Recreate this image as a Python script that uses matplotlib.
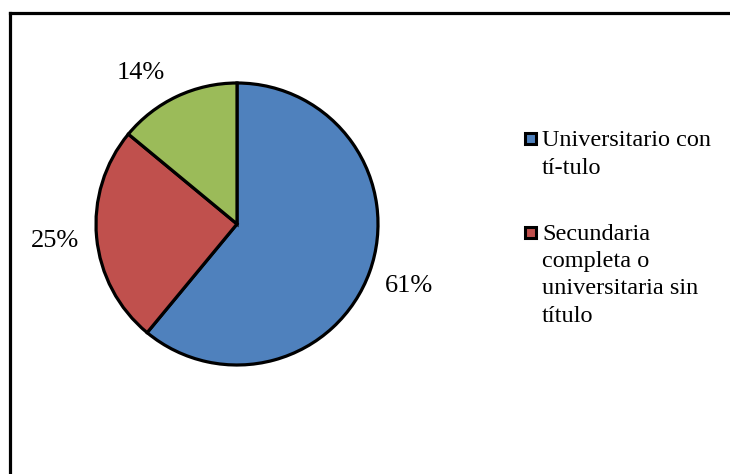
import matplotlib
matplotlib.use('Agg')
import matplotlib.pyplot as plt
from matplotlib.patches import Rectangle


# ----------------------------------------------------------------------------------------------------
# data
# ----------------------------------------------------------------------------------------------------
values = [61, 25, 14]
colors = ['#4F81BD', '#C0504D', '#9BBB59']
legend_labels = ['Universitario con\ntí-tulo',
                 'Secundaria\ncompleta o\nuniversitaria sin\ntítulo']


# ----------------------------------------------------------------------------------------------------
# figure (axes in pixel coords, y up)
# ----------------------------------------------------------------------------------------------------
W, H = 730, 474
plt.rcParams['font.family'] = ['Liberation Serif', 'DejaVu Serif']

fig = plt.figure(figsize=(W / 100, H / 100), dpi=100)
ax = fig.add_axes([0, 0, 1, 1])

wedges, texts, autotexts = ax.pie(values, colors=colors, startangle=90, counterclock=False,
                                  center=(237, H - 224), radius=141,
                                  autopct='%1.0f%%', pctdistance=1.3,
                                  wedgeprops=dict(edgecolor='black', linewidth=2.3),
                                  textprops=dict(fontsize=19, color='black'))

# small slice label sits closer to the pie in the original
autotexts[2].set_position((141, H - 73))

ax.set_xlim(0, W)
ax.set_ylim(0, H)
ax.set_aspect('auto')
ax.set_axis_off()

# chart area border (top and left only visible)
ax.plot([10, W], [H - 13, H - 13], color='black', linewidth=2.3, solid_capstyle='projecting', clip_on=False)
ax.plot([10, 10], [H - 13, 0], color='black', linewidth=2.3, solid_capstyle='projecting', clip_on=False)

# legend drawn by hand so the marker sits on the first line
line_h = 27.5
y_base = H - 146
for (idx, label) in enumerate(legend_labels):
    ax.add_patch(Rectangle((525, y_base + 2), 11, 11, facecolor=colors[idx],
                           edgecolor='black', linewidth=2.2))
    for (n, line) in enumerate(label.split('\n')):
        ax.text(542, y_base - n * line_h, line, fontsize=17.5, va='baseline', ha='left')
    y_base -= (len(label.split('\n')) - 1) * line_h + 66

fig.savefig('out.png', dpi=100)
plt.close(fig)
